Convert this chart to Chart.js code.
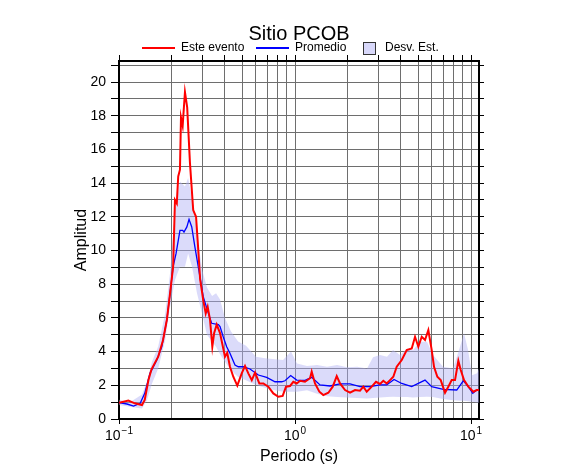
<!DOCTYPE html>
<html>
<head>
<meta charset="utf-8">
<title>Sitio PCOB</title>
<script src="https://cdn.jsdelivr.net/npm/chart.js@4.4.1/dist/chart.umd.min.js"></script>
<style>
  html, body { margin: 0; padding: 0; background: #fff; }
</style>
</head>
<body>
<canvas id="myChart" width="586" height="475"></canvas>
<script>
// Este evento
const eventoPeriodos = [
  0.100, 0.113, 0.123, 0.135, 0.140, 0.147, 0.153, 0.167, 0.178, 0.187,
  0.195, 0.203, 0.208, 0.213, 0.217, 0.222, 0.225, 0.230, 0.232, 0.237,
  0.244, 0.253, 0.264, 0.274, 0.281, 0.289, 0.301, 0.311, 0.319, 0.329,
  0.339, 0.347, 0.359, 0.375, 0.400, 0.412, 0.427, 0.446, 0.470, 0.498,
  0.520, 0.543, 0.568, 0.593, 0.627, 0.661, 0.705, 0.753, 0.804, 0.851,
  0.889, 0.937, 0.978, 1.022, 1.068, 1.140, 1.217, 1.244, 1.299, 1.375,
  1.448, 1.547, 1.638, 1.726, 1.802, 1.924, 2.054, 2.193, 2.340, 2.444,
  2.555, 2.728, 2.885, 3.041, 3.175, 3.319, 3.466, 3.619, 3.783, 4.040,
  4.313, 4.604, 4.807, 5.019, 5.247, 5.479, 5.721, 5.980, 6.163, 6.435,
  6.727, 7.117, 7.430, 7.768, 8.112, 8.470, 8.741, 9.125, 9.654, 10.31,
  10.78, 11.10
];
const eventoAmp = [
  0.97, 1.09, 0.93, 0.83, 1.13, 2.31, 2.95, 3.70, 4.69, 5.88,
  7.46, 9.04, 13.0, 12.8, 14.4, 14.8, 17.9, 17.4, 18.0, 19.4,
  18.5, 15.2, 12.4, 12.0, 10.3, 8.3, 7.06, 6.27, 6.66, 5.88,
  4.29, 5.09, 5.6, 5.1, 3.7, 3.93, 3.1, 2.51, 1.98, 2.71,
  3.15, 2.71, 2.31, 2.75, 2.11, 2.11, 1.92, 1.52, 1.32, 1.37,
  1.92, 1.96, 2.21, 2.11, 2.27, 2.21, 2.42, 2.81, 2.11, 1.62,
  1.42, 1.56, 1.92, 2.55, 2.11, 1.72, 1.56, 1.72, 1.68, 1.92,
  1.62, 1.92, 2.21, 2.08, 2.27, 2.11, 2.31, 2.51, 3.10, 3.50,
  4.09, 4.19, 4.88, 4.29, 4.88, 4.69, 5.28, 4.09, 3.10, 2.51,
  2.31, 1.56, 1.92, 2.31, 2.31, 3.46, 2.91, 2.31, 1.92, 1.62,
  1.72, 1.72
];

// Promedio
const promPeriodos = [
  0.100, 0.111, 0.121, 0.132, 0.140, 0.150, 0.164, 0.175, 0.187, 0.195,
  0.203, 0.211, 0.222, 0.230, 0.234, 0.243, 0.250, 0.259, 0.270, 0.282,
  0.301, 0.322, 0.336, 0.367, 0.375, 0.391, 0.409, 0.427, 0.456, 0.476,
  0.509, 0.555, 0.619, 0.690, 0.770, 0.840, 0.877, 0.945, 1.022, 1.140,
  1.244, 1.387, 1.581, 1.802, 2.054, 2.340, 2.668, 3.041, 3.319, 3.652,
  4.040, 4.604, 5.479, 5.980, 6.960, 8.295, 9.040, 9.654, 10.23, 10.78,
  11.10
];
const promAmp = [
  0.97, 0.89, 0.77, 0.93, 1.52, 2.71, 3.50, 4.29, 5.88, 7.46,
  9.04, 9.83, 11.2, 11.2, 11.1, 11.4, 11.85, 11.4, 10.2, 9.04,
  7.26, 6.27, 5.68, 5.60, 5.48, 4.88, 4.29, 3.90, 3.20, 3.10,
  3.10, 2.97, 2.61, 2.47, 2.21, 2.21, 2.27, 2.58, 2.31, 2.29,
  2.47, 2.02, 1.96, 2.08, 2.08, 1.92, 1.92, 2.02, 2.02, 2.35,
  2.11, 1.92, 2.31, 1.92, 1.76, 1.72, 2.27, 1.92, 1.52, 1.72,
  1.72
];

// Desv. Est. (banda)
const bandaPeriodos = [
  0.100, 0.1155, 0.135, 0.144, 0.154, 0.167, 0.183, 0.195, 0.208, 0.222,
  0.237, 0.247, 0.260, 0.2775, 0.296, 0.316, 0.338, 0.356, 0.375, 0.400,
  0.433, 0.475, 0.527, 0.600, 0.675, 0.770, 0.855, 0.949, 1.026, 1.170,
  1.334, 1.520, 1.733, 1.975, 2.251, 2.566, 2.775, 3.041, 3.332, 3.605,
  3.951, 4.329, 4.683, 5.132, 5.623, 6.082, 6.933, 7.902, 8.66, 9.125,
  9.62, 10.13, 10.82, 11.10
];
const bandaSup = [
  1.15, 1.0, 1.45, 2.2, 3.4, 4.3, 6.27, 8.65, 12.4, 14.1,
  13.8, 14.3, 13.1, 11.1, 8.9, 7.8, 7.3, 7.46, 7.1, 6.0,
  5.2, 4.6, 4.35, 3.7, 3.6, 3.55, 3.5, 4.0, 3.3, 3.15,
  3.2, 3.1, 3.2, 3.07, 3.1, 3.0, 3.66, 3.8, 3.7, 4.09,
  3.8, 4.19, 4.09, 4.59, 4.59, 3.8, 3.1, 3.0, 4.29, 5.09,
  4.09, 2.6, 2.71, 3.0
];
const bandaInf = [
  0.83, 0.73, 0.63, 1.1, 2.1, 3.0, 4.69, 6.66, 8.25, 9.04,
  9.04, 9.83, 9.04, 7.46, 6.27, 5.0, 4.6, 4.29, 3.85, 3.4,
  2.9, 2.5, 2.3, 2.02, 1.85, 1.7, 1.62, 1.62, 1.62, 1.7,
  1.5, 1.35, 1.3, 1.28, 1.25, 1.22, 1.24, 1.28, 1.3, 1.32,
  1.3, 1.3, 1.28, 1.3, 1.32, 1.3, 1.18, 1.12, 1.09, 1.09,
  1.06, 1.02, 0.98, 0.97
];

// ticks del eje de periodos
const periodoTicks = [
  0.1, 0.2, 0.3, 0.4, 0.5, 0.6, 0.7, 0.8, 0.9,
  1, 2, 3, 4, 5, 6, 7, 8, 9, 10
];
const decadas = [0.1, 1, 10];
const exponentes = ['\u22121', '0', '1'];

const FONT = '"Liberation Sans", Arial, Helvetica, sans-serif';
const GRID = '#6e6e6e';
const BANDA = 'rgba(175, 175, 245, 0.45)';

const pares = (xs, ys) => xs.map((x, i) => ({ x: x, y: ys[i] }));
const esDecada = v => decadas.indexOf(v) !== -1;
const fijarTicks = axis => { axis.ticks = periodoTicks.map(v => ({ value: v })); };

// etiquetas 10^n con exponente elevado
const etiquetasDecada = {
  id: 'etiquetasDecada',
  afterDraw(chart) {
    const ctx = chart.ctx;
    const sx = chart.scales.x;
    ctx.save();
    ctx.fillStyle = '#000';
    ctx.textBaseline = 'alphabetic';
    ctx.textAlign = 'left';
    decadas.forEach(function(v, i) {
      const px = sx.getPixelForValue(v);
      ctx.font = '14px ' + FONT;
      const wBase = ctx.measureText('10').width;
      ctx.font = '10px ' + FONT;
      const wExp = ctx.measureText(exponentes[i]).width;
      const x0 = px - (wBase + wExp + 1) / 2;
      ctx.font = '14px ' + FONT;
      ctx.fillText('10', x0, 440);
      ctx.font = '10px ' + FONT;
      ctx.fillText(exponentes[i], x0 + wBase + 1, 434);
    });
    ctx.restore();
  }
};

// leyenda dibujada arriba del marco
const leyenda = {
  id: 'leyenda',
  afterDraw(chart) {
    const ctx = chart.ctx;
    const ds = chart.data.datasets;
    const y = 48;
    ctx.save();
    ctx.font = '12px ' + FONT;
    ctx.textBaseline = 'middle';
    ctx.fillStyle = '#000';
    [[ds[0], 142], [ds[1], 256]].forEach(function(item) {
      const d = item[0], x = item[1];
      ctx.strokeStyle = d.borderColor;
      ctx.lineWidth = 2;
      ctx.beginPath();
      ctx.moveTo(x, y);
      ctx.lineTo(x + 33, y);
      ctx.stroke();
      ctx.fillText(d.label, x + 39, y);
    });
    ctx.fillStyle = '#d8d8fa';
    ctx.fillRect(363.5, 42.5, 12, 12);
    ctx.strokeStyle = '#333';
    ctx.lineWidth = 1;
    ctx.strokeRect(363.5, 42.5, 12, 12);
    ctx.fillStyle = '#000';
    ctx.fillText(ds[3].label, 385, y);
    ctx.restore();
  }
};

Chart.defaults.font.family = FONT;
Chart.defaults.color = '#000';

const ctx = document.getElementById('myChart').getContext('2d');
new Chart(ctx, {
  type: 'line',
  data: {
    datasets: [
      {
        label: 'Este evento',
        data: pares(eventoPeriodos, eventoAmp),
        borderColor: '#ff0000',
        borderWidth: 2,
        pointRadius: 0,
        tension: 0,
        fill: false
      },
      {
        label: 'Promedio',
        data: pares(promPeriodos, promAmp),
        borderColor: '#0000ff',
        borderWidth: 1.3,
        pointRadius: 0,
        tension: 0,
        fill: false
      },
      {
        label: 'Desv. Est. sup',
        data: pares(bandaPeriodos, bandaSup),
        borderWidth: 0,
        borderColor: 'rgba(0,0,0,0)',
        pointRadius: 0,
        tension: 0,
        fill: false
      },
      {
        label: 'Desv. Est.',
        data: pares(bandaPeriodos, bandaInf),
        borderWidth: 0,
        borderColor: 'rgba(0,0,0,0)',
        backgroundColor: BANDA,
        pointRadius: 0,
        tension: 0,
        fill: '-1'
      }
    ]
  },
  options: {
    responsive: false,
    animation: false,
    parsing: false,
    layout: { padding: { left: 12, right: 0, top: 0, bottom: 0 } },
    plugins: {
      legend: { display: false },
      tooltip: { enabled: false },
      title: {
        display: true,
        text: 'Sitio PCOB',
        color: '#000',
        font: { size: 20, weight: 'normal' },
        padding: { top: 22, bottom: 5 }
      }
    },
    scales: {
      x: {
        type: 'logarithmic',
        position: 'bottom',
        min: 0.1,
        max: 11.1,
        afterBuildTicks: fijarTicks,
        afterFit: axis => { axis.height = 56; },
        grid: {
          color: GRID,
          lineWidth: 1,
          tickLength: 5,
          tickColor: c => (c.tick && esDecada(c.tick.value)) ? '#000' : 'rgba(0,0,0,0)'
        },
        border: { color: '#000', width: 2 },
        ticks: {
          autoSkip: false,
          maxRotation: 0,
          callback: () => ''
        },
        title: {
          display: true,
          text: 'Periodo (s)',
          color: '#000',
          font: { size: 16 },
          padding: { top: 0, bottom: 9 }
        }
      },
      xTop: {
        type: 'logarithmic',
        position: 'top',
        min: 0.1,
        max: 11.1,
        afterBuildTicks: fijarTicks,
        afterFit: axis => { axis.height = 10; },
        grid: { drawOnChartArea: false, tickLength: 6, tickColor: '#000' },
        border: { color: '#000', width: 2 },
        ticks: { display: false, autoSkip: false }
      },
      y: {
        position: 'left',
        min: 0,
        max: 21.25,
        afterFit: axis => { axis.width = 107; },
        grid: { color: GRID, lineWidth: 1, tickLength: 8, tickColor: '#000' },
        border: { color: '#000', width: 2 },
        ticks: {
          stepSize: 1,
          autoSkip: false,
          includeBounds: false,
          padding: 5,
          color: '#000',
          font: { size: 14 },
          callback: v => (v % 2 === 0 ? String(v) : '')
        },
        title: {
          display: true,
          text: 'Amplitud',
          color: '#000',
          font: { size: 16 },
          padding: { top: 60, bottom: 0 }
        }
      },
      yRight: {
        position: 'right',
        min: 0,
        max: 21.25,
        afterFit: axis => { axis.width = 107; },
        grid: { drawOnChartArea: false, tickLength: 5, tickColor: '#000' },
        border: { color: '#000', width: 2 },
        ticks: { display: false, stepSize: 1, includeBounds: false }
      }
    }
  },
  plugins: [leyenda, etiquetasDecada]
});
</script>
</body>
</html>
